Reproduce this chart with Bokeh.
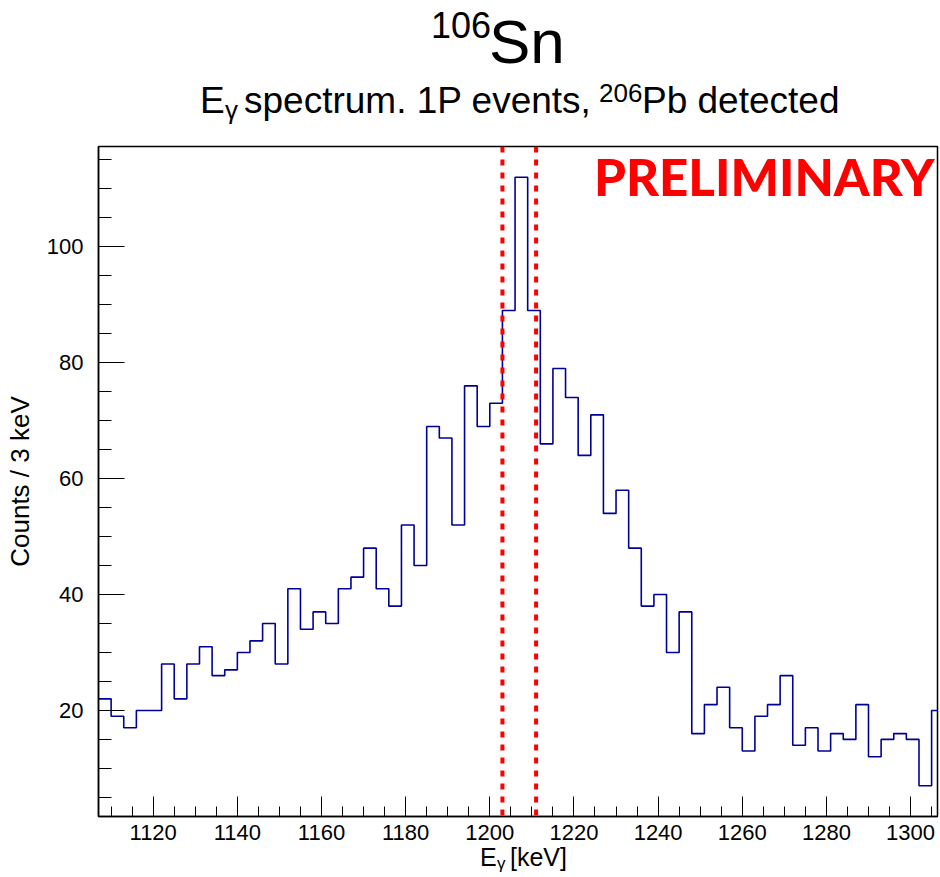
import numpy as np
from bokeh.plotting import figure
from bokeh.models import Label, Span, SingleIntervalTicker, Range1d, ColumnDataSource, Div
from bokeh.layouts import column
from bokeh.embed import file_html
from bokeh.resources import INLINE

# ---------------- data ----------------
bin_start = 1107          # keV, lower edge of first bin
bin_width = 3             # keV per bin
counts = [22, 19, 17, 20, 20, 28, 22, 28, 31, 26, 27, 30, 32, 35, 28, 41, 34, 37,
          35, 41, 43, 48, 41, 38, 52, 45, 69, 67, 52, 76, 69, 73, 89, 112, 89, 66,
          79, 74, 64, 71, 54, 58, 48, 38, 40, 30, 37, 16, 21, 24, 17, 13, 19, 21,
          26, 14, 17, 13, 16, 15, 21, 12, 15, 16, 15, 7, 20]
gate_lines = [1203, 1211]  # keV, red dashed gate markers
x_ticks_interval = 20
y_ticks_interval = 20

# ---------------- layout ----------------
W, H = 940, 877
TOP_H = 144          # header (title) block height
BOT_H = 27           # x-axis title block height
FIG_H = H - TOP_H - BOT_H
FL, FR = 98, 937
MB_TOP, MB_BOT = 2, 34   # frame from y=146 to y=816 in page coordinates
x0, x1 = 1107, 1306.4
y0, y1 = 1.7, 117.3
FONT = "Liberation Sans"

edges = bin_start + bin_width * np.arange(len(counts) + 1)
step_y = list(counts) + [counts[-1]]
src = ColumnDataSource(dict(x=edges, y=step_y))

p = figure(width=W, height=FIG_H, output_backend="svg", toolbar_location=None,
           x_range=Range1d(x0, x1), y_range=Range1d(y0, y1),
           min_border_left=FL, min_border_right=W - FR,
           min_border_top=MB_TOP, min_border_bottom=MB_BOT, margin=0)
p.background_fill_color = "white"
p.border_fill_color = "white"
p.grid.visible = False
p.outline_line_color = "black"
p.outline_line_width = 1.5

p.step("x", "y", source=src, mode="after", line_color="#000099", line_width=1.6)

for ax, interval, maj, mnr in ((p.xaxis, x_ticks_interval, 20, 10),
                                (p.yaxis, y_ticks_interval, 26, 13)):
    ax.ticker = SingleIntervalTicker(interval=interval, num_minor_ticks=4)
    ax.major_tick_in = maj
    ax.major_tick_out = 0
    ax.minor_tick_in = mnr
    ax.minor_tick_out = 0
    ax.axis_line_color = "black"
    ax.axis_line_width = 1.5
    ax.major_tick_line_color = "black"
    ax.minor_tick_line_color = "black"
    ax.major_label_text_font = FONT
    ax.major_label_text_font_size = "22px"
    ax.major_label_text_color = "black"

p.xaxis.major_label_standoff = 8
p.yaxis.major_label_standoff = 15
p.yaxis.axis_label = "Counts / 3 keV"
p.yaxis.axis_label_text_font = FONT
p.yaxis.axis_label_text_font_size = "26px"
p.yaxis.axis_label_text_font_style = "normal"
p.yaxis.axis_label_text_color = "black"
p.yaxis.axis_label_standoff = 9

for e in gate_lines:
    p.add_layout(Span(location=e, dimension="height", line_color="red",
                      line_width=4, line_dash="6 7"))

prelim = Label(x=x1, y=y1, x_offset=-3, y_offset=-30, text="PRELIMINARY",
               text_font="'Lato Black', 'Liberation Sans'", text_font_size="51px",
               text_font_style="normal",
               text_color="red", text_align="right", text_baseline="alphabetic")
p.add_layout(prelim)

# ---------------- header / axis-title text blocks ----------------
def span(text, baseline, size, left=None, right=None, lh=1.0):
    top = baseline - (lh / 2 + 0.3465) * size
    pos = f"left:{left}px;" if left is not None else f"right:{right}px;"
    return (f'<span style="position:absolute;{pos}top:{top:.1f}px;font-size:{size}px;'
            f'line-height:{lh};white-space:nowrap;">{text}</span>')

head_html = (
    f'<div style="position:relative;width:{W}px;height:{TOP_H}px;'
    f'font-family:\'{FONT}\';color:black;">'
    + span("106", 38, 36, right=W - 491)
    + span("Sn", 63, 62, left=489)
    + span("E", 113, 37, left=200)
    + span("\u03b3", 119, 26, left=225)
    + span("spectrum. 1P events,", 113, 37, left=244)
    + span("206", 102, 26, left=599)
    + span("Pb detected", 113, 37, left=642)
    + "</div>"
)
bot_base = H - BOT_H
foot_html = (
    f'<div style="position:relative;width:{W}px;height:{BOT_H}px;'
    f'font-family:\'{FONT}\';color:black;">'
    + span("E", 866 - bot_base, 25, left=480, lh=0.6)
    + span("\u03b3", 870 - bot_base, 17, left=497, lh=0.6)
    + span("[keV]", 866 - bot_base, 25, left=510, lh=0.6)
    + "</div>"
)
head = Div(text=head_html, width=W, height=TOP_H, margin=0)
foot = Div(text=foot_html, width=W, height=BOT_H, margin=0)

layout = column(head, p, foot, spacing=0, margin=0)
open("out.html", "w").write(file_html(layout, INLINE))
